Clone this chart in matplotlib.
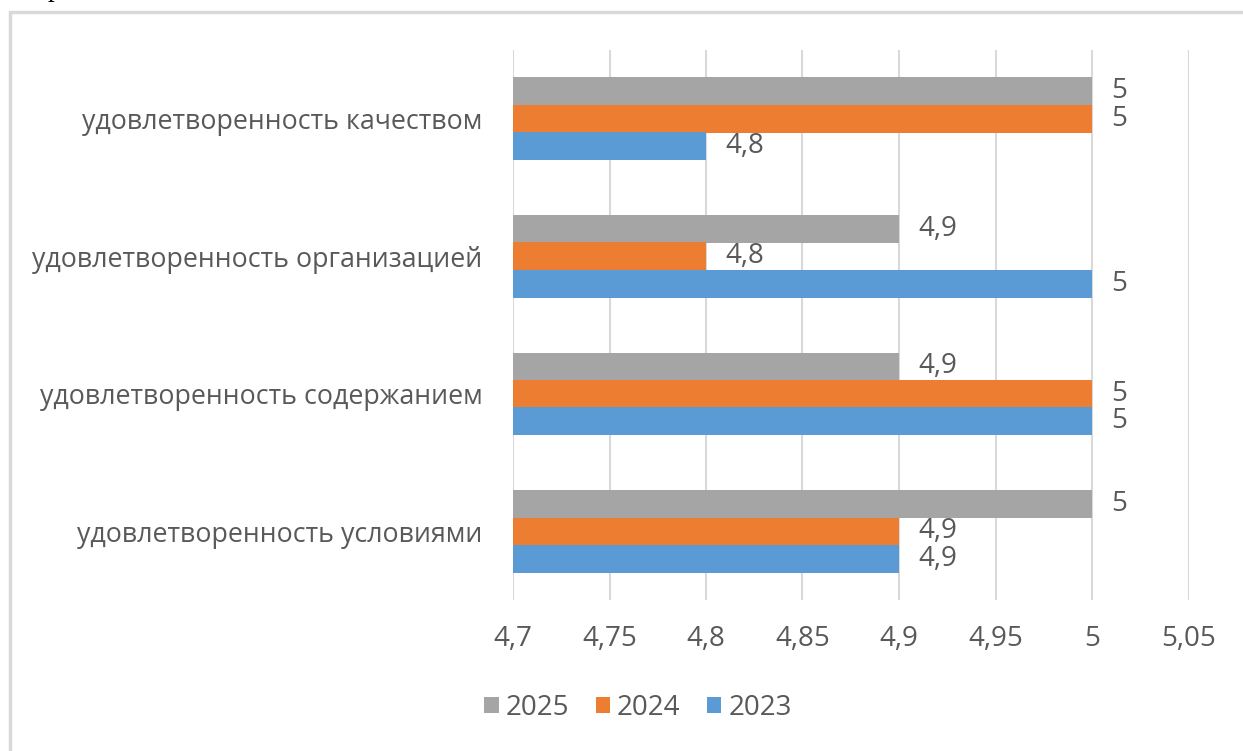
import matplotlib
matplotlib.use("Agg")
import matplotlib.pyplot as plt
from matplotlib.patches import Rectangle
import numpy as np

categories = ["удовлетворенность условиями", "удовлетворенность содержанием",
              "удовлетворенность организацией", "удовлетворенность качеством"]
v2023 = [4.9, 5.0, 5.0, 4.8]
v2024 = [4.9, 5.0, 4.8, 5.0]
v2025 = [5.0, 4.9, 4.9, 5.0]
xticks = [4.7, 4.75, 4.8, 4.85, 4.9, 4.95, 5.0, 5.05]
xticklabels = ["4,7", "4,75", "4,8", "4,85", "4,9", "4,95", "5", "5,05"]

c2023 = "#5b9bd5"
c2024 = "#ed7d31"
c2025 = "#a5a5a5"
tc = "#595959"
fs_cat = 19.3
fs_num = 20

plt.rcParams['font.family'] = ['Open Sans', 'DejaVu Sans']

fig = plt.figure(figsize=(12.43, 7.51), dpi=100)
W, H = 1243, 751
# outer chart border
fig.patches.append(Rectangle((10 / W, -0.1), 1.2, 1 - 12 / H + 0.1, transform=fig.transFigure,
                             fill=False, edgecolor="#d9d9d9", linewidth=2.5))
fig.text(48 / W, 1 + 4 / H, "р", family="Liberation Serif", fontsize=20, color="black",
         va="baseline", ha="left")

ax = fig.add_axes([513 / W, 1 - 600 / H, (1188.5 - 513) / W, 550 / H])
y = np.arange(len(categories))
h = 0.2
series = [(v2025, c2025, "2025", h), (v2024, c2024, "2024", 0), (v2023, c2023, "2023", -h)]
for vals, col, lab, off in series:
    ax.barh(y + off, [v - 4.7 for v in vals], left=4.7, height=h, color=col, label=lab, zorder=3)
    for yy, v in zip(y + off, vals):
        txt = f"{v:g}".replace(".", ",")
        ax.annotate(txt, (v, yy), xytext=(14, 0), textcoords="offset points",
                    ha="left", va="center", fontsize=fs_num, color=tc)

ax.set_xlim(4.7, 5.05)
ax.set_ylim(-0.5, 3.5)
ax.set_xticks(xticks)
ax.set_xticklabels(xticklabels)
ax.set_yticks(y)
ax.set_yticklabels(categories, fontsize=fs_cat)
ax.tick_params(axis="both", length=0, labelcolor=tc)
ax.tick_params(axis="x", labelsize=fs_num, pad=18)
ax.tick_params(axis="y", pad=22)
ax.grid(axis="x", color="#d9d9d9", linewidth=1.5, zorder=0)
for s in ax.spines.values():
    s.set_visible(False)

handles, labels = ax.get_legend_handles_labels()
fig.legend(handles, labels, loc="center", bbox_to_anchor=(638 / W, 1 - 708 / H), ncol=3,
           frameon=False, fontsize=fs_num, labelcolor=tc, handlelength=0.52, handleheight=0.52,
           handletextpad=0.25, columnspacing=0.95)

fig.savefig("out.png", dpi=100)
